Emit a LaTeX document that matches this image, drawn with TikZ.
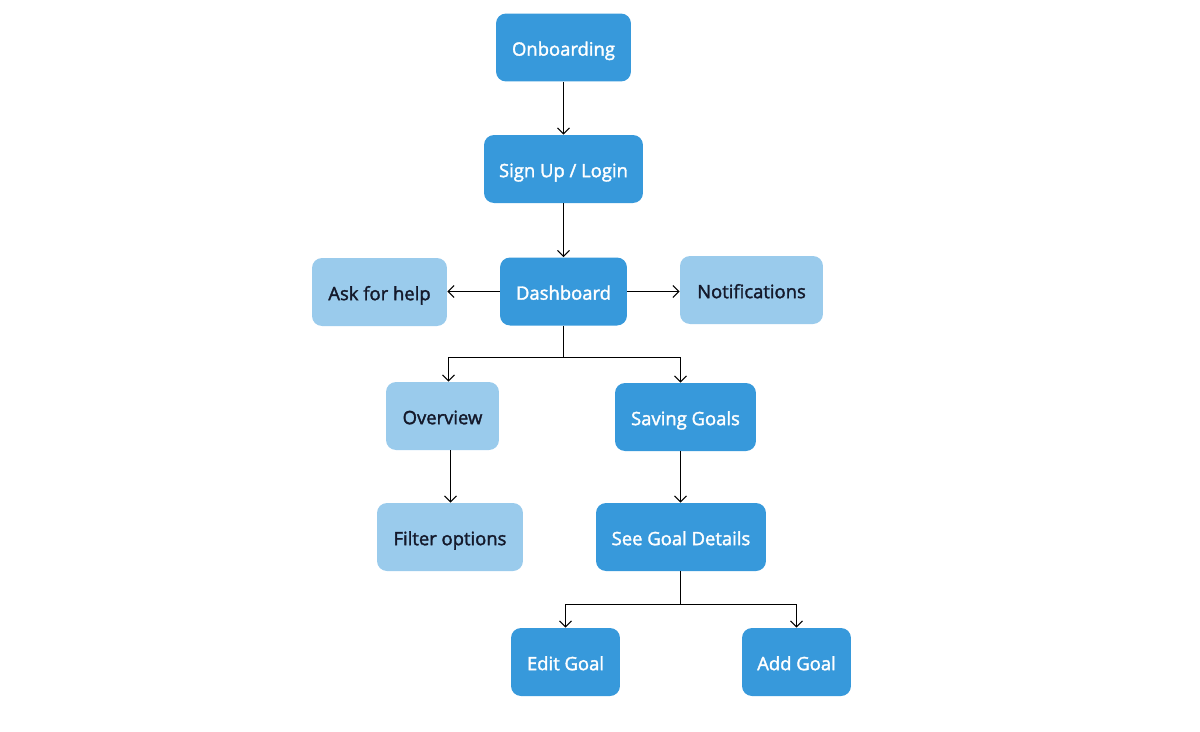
\documentclass[tikz,border=0pt]{standalone}
\usepackage{fontspec}
\setmainfont{Open Sans}[BoldFont={Open Sans}, BoldFeatures={FakeBold=1.8}]
\usetikzlibrary{arrows.meta,positioning,calc}
\definecolor{stepblue}{HTML}{3799DB}
\definecolor{steplight}{HTML}{9ACBEC}
\definecolor{steptext}{HTML}{14192B}
\tikzset{
    flowbox/.style={rounded corners=0.2cm, align=center, font=\bfseries\fontsize{10.5}{12}\selectfont,
        minimum height=1.36cm, inner sep=0pt, text height=9.5pt, text depth=0.2pt},
    mainbox/.style={flowbox, fill=stepblue, text=white},
    sidebox/.style={flowbox, fill=steplight, text=steptext},
    flowarrow/.style={-{Straight Barb[length=1.2mm, width=2.4mm]}, line width=0.6pt}
}
\begin{document}
\begin{tikzpicture}[x=0.02cm, y=-0.02cm]
\useasboundingbox (0,0) rectangle (1200,731);
\node[mainbox, minimum width=2.7cm] (onb) at (563.5,47.5) {Onboarding};
\node[mainbox, minimum width=3.18cm] (login) at (563.5,169) {Sign Up / Login};
\node[mainbox, minimum width=2.54cm] (dash) at (563.5,291.5) {Dashboard};
\node[sidebox, minimum width=2.7cm] (help) at (379.5,292) {Ask for help};
\node[sidebox, minimum width=2.86cm] (notif) at (751.5,290) {Notifications};
\node[sidebox, minimum width=2.26cm] (ovr) at (442.5,416) {Overview};
\node[mainbox, minimum width=2.82cm] (goals) at (685.5,417) {Saving Goals};
\node[sidebox, minimum width=2.92cm] (filt) at (450,537) {Filter options};
\node[mainbox, minimum width=3.4cm] (details) at (681,537) {See Goal Details};
\node[mainbox, minimum width=2.18cm] (edit) at (565.5,662) {Edit Goal};
\node[mainbox, minimum width=2.18cm] (add) at (796.5,662) {Add Goal};
\coordinate (split1) at (563.5,357.5);
\coordinate (split2) at (680.5,604.5);
\draw[flowarrow] (onb) -- (login);
\draw[flowarrow] (login) -- (dash);
\draw[flowarrow] (dash.west) -- (dash.west -| help.east);
\draw[flowarrow] (dash.east) -- (dash.east -| notif.west);
\draw[line width=0.6pt] (dash.south) -- (split1);
\draw[flowarrow] (split1) -| ([xshift=0.12cm]ovr.north);
\draw[flowarrow] (split1) -| ([xshift=-0.1cm]goals.north);
\draw[flowarrow] ([xshift=0.16cm]ovr.south) -- ([xshift=0.16cm]ovr.south |- filt.north);
\draw[flowarrow] ([xshift=-0.1cm]goals.south) -- ([xshift=-0.1cm]goals.south |- details.north);
\draw[line width=0.6pt] (split2 |- details.south) -- (split2);
\draw[flowarrow] (split2) -| (edit.north);
\draw[flowarrow] (split2) -| (add.north);
\end{tikzpicture}
\end{document}
